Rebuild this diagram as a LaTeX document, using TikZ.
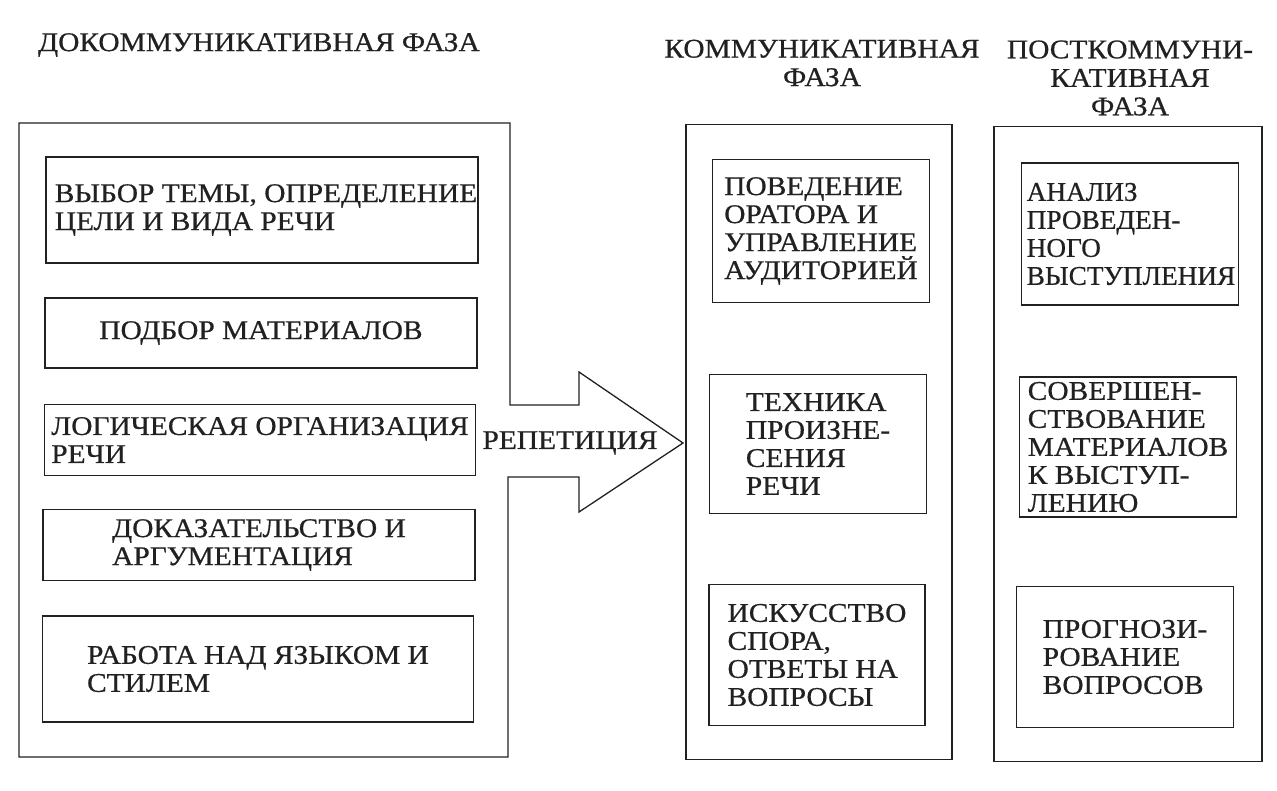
\documentclass[tikz,border=0pt]{standalone}
\usepackage{fontspec}
\setmainfont[FakeStretch=1.09,FakeBold=0.6]{Liberation Serif}
\newfontfamily\narrowserif[FakeStretch=1.01,FakeBold=0.6]{Liberation Serif}
\definecolor{ink}{rgb}{0.13,0.13,0.13}
\begin{document}
\begin{tikzpicture}[x=1pt,y=-1pt,
  every node/.style={text=ink},
  txt/.style={align=left, inner sep=0pt, font=\fontsize{27}{28}\selectfont},
  narrowtxt/.style={align=left, inner sep=0pt, font=\narrowserif\fontsize{27}{28}\selectfont},
  hdr/.style={align=center, inner sep=0pt, font=\fontsize{27}{28.5}\selectfont},
  box/.style={draw=ink, line width=1.3pt, inner sep=0pt},
  outline/.style={draw=ink, line width=1.3pt, line join=miter}]
\useasboundingbox[fill=white] (0,0) rectangle (1277,790);

% headers
\node[hdr] (h1) at (259,45) {ДОКОММУНИКАТИВНАЯ ФАЗА};
\node[hdr] (h2) at (822,63) {КОММУНИКАТИВНАЯ\\ФАЗА};
\node[hdr] (h3) at (1130,78) {ПОСТКОММУНИ-\\КАТИВНАЯ\\ФАЗА};

% left outline with arrow
\coordinate (L1) at (19,123);
\coordinate (L2) at (510,123);
\coordinate (A1) at (510,405);
\coordinate (A2) at (579,405);
\coordinate (A3) at (579,372);
\coordinate (A4) at (683,443);
\coordinate (A5) at (579,512);
\coordinate (A6) at (579,477);
\coordinate (A7) at (508,477);
\coordinate (L3) at (508,757);
\coordinate (L4) at (19,757);
\draw[outline] (L1) -- (L2) -- (A1) -- (A2) -- (A3) -- (A4) -- (A5) -- (A6) -- (A7) -- (L3) -- (L4) -- cycle;
\node[txt] (rep) at (570,443) {РЕПЕТИЦИЯ};

% middle and right outer boxes
\node[box, minimum width=266pt, minimum height=635pt] (m) at (819,442) {};
\node[box, minimum width=268pt, minimum height=635pt] (r) at (1128,444) {};

% left inner boxes
\node[box, minimum width=432pt, minimum height=106pt] (b1) at (262,210) {};
\node[txt] (b1t) at (266,210) {ВЫБОР ТЕМЫ, ОПРЕДЕЛЕНИЕ\\ЦЕЛИ И ВИДА РЕЧИ};
\node[box, minimum width=432pt, minimum height=70pt] (b2) at (261,333) {};
\node[txt] (b2t) at (b2) {ПОДБОР МАТЕРИАЛОВ};
\node[box, minimum width=431pt, minimum height=71pt] (b3) at (260,440) {};
\node[txt] (b3t) at (b3) {ЛОГИЧЕСКАЯ ОРГАНИЗАЦИЯ\\РЕЧИ};
\node[box, minimum width=432pt, minimum height=71pt] (b4) at (259,545) {};
\node[txt] (b4t) at (b4) {ДОКАЗАТЕЛЬСТВО И\\АРГУМЕНТАЦИЯ};
\node[box, minimum width=431pt, minimum height=106pt] (b5) at (258,669) {};
\node[txt] (b5t) at (b5) {РАБОТА НАД ЯЗЫКОМ И\\СТИЛЕМ};

% middle inner boxes
\node[box, minimum width=217pt, minimum height=143pt] (c1) at (821,231) {};
\node[txt] (c1t) at (c1) {ПОВЕДЕНИЕ\\ОРАТОРА И\\УПРАВЛЕНИЕ\\АУДИТОРИЕЙ};
\node[box, minimum width=217pt, minimum height=139pt] (c2) at (818,444) {};
\node[txt] (c2t) at (c2) {ТЕХНИКА\\ПРОИЗНЕ-\\СЕНИЯ\\РЕЧИ};
\node[box, minimum width=216pt, minimum height=141pt] (c3) at (817,655) {};
\node[txt] (c3t) at (c3) {ИСКУССТВО\\СПОРА,\\ОТВЕТЫ НА\\ВОПРОСЫ};

% right inner boxes
\node[box, minimum width=217pt, minimum height=142pt] (d1) at (1130,234) {};
\node[narrowtxt] (d1t) at (1131,234) {АНАЛИЗ\\ПРОВЕДЕН-\\НОГО\\ВЫСТУПЛЕНИЯ};
\node[box, minimum width=217pt, minimum height=140pt] (d2) at (1128,447) {};
\node[txt] (d2t) at (d2) {СОВЕРШЕН-\\СТВОВАНИЕ\\МАТЕРИАЛОВ\\К ВЫСТУП-\\ЛЕНИЮ};
\node[box, minimum width=217pt, minimum height=141pt] (d3) at (1125,657) {};
\node[txt] (d3t) at (d3) {ПРОГНОЗИ-\\РОВАНИЕ\\ВОПРОСОВ};
\end{tikzpicture}
\end{document}
